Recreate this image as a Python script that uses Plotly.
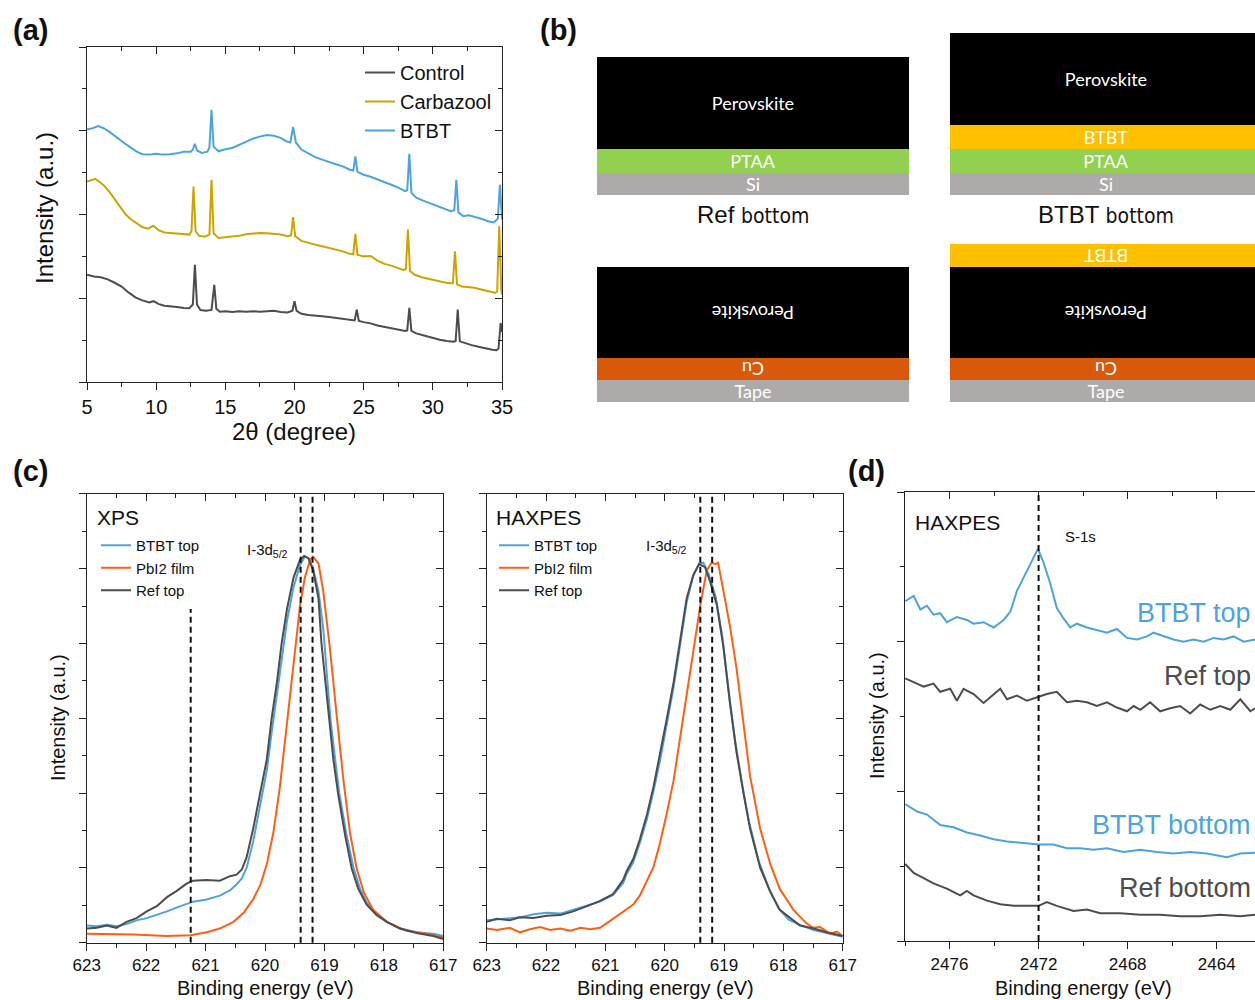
import plotly.graph_objects as go

W, H = 1255, 1000
ARIAL = "Liberation Sans, Arial, sans-serif"
GRAY = "#4d4d4d"
GOLD = "#cda400"
BLUE = "#4da3e0"
ORANGE = "#ff5f15"
AX = "#222222"

# ---------------- (a) XRD data ----------------
xrd_control_x = [5.0, 5.5, 6.0, 6.5, 7.0, 7.5, 8.0, 8.5, 9.0, 9.5, 9.8, 10.2, 10.6, 11.0, 11.5, 12.0, 12.4, 12.65, 12.8, 12.95,
                 13.2, 13.6, 14.0, 14.2, 14.35, 14.6, 15.0, 15.5, 16.0, 16.5, 17.0, 17.5, 18.0, 18.5, 19.0, 19.5, 19.85, 20.0,
                 20.15, 20.5, 21.0, 21.5, 22.0, 22.5, 23.0, 23.5, 24.0, 24.35, 24.5, 24.65, 25.0, 25.5, 26.0, 26.5, 27.0, 27.5,
                 28.0, 28.15, 28.3, 28.45, 28.8, 29.5, 30.0, 30.5, 31.0, 31.5, 31.65, 31.8, 31.95, 32.3, 32.8, 33.3, 33.8,
                 34.3, 34.6, 34.75, 34.9, 35.0]
xrd_control_y = [2.56, 2.52, 2.50, 2.45, 2.37, 2.28, 2.14, 2.02, 1.95, 1.90, 1.93, 1.86, 1.82, 1.80, 1.79, 1.77, 1.76, 1.85, 2.80, 1.85,
                 1.72, 1.70, 1.72, 2.32, 1.75, 1.68, 1.69, 1.67, 1.69, 1.68, 1.69, 1.68, 1.69, 1.70, 1.67, 1.66, 1.70, 1.93,
                 1.70, 1.63, 1.60, 1.59, 1.57, 1.55, 1.53, 1.51, 1.48, 1.47, 1.73, 1.46, 1.43, 1.40, 1.35, 1.32, 1.29, 1.26,
                 1.22, 1.23, 1.77, 1.22, 1.16, 1.10, 1.05, 1.01, 0.98, 0.96, 0.98, 1.73, 0.97, 0.93, 0.88, 0.84, 0.80,
                 0.77, 0.76, 0.80, 1.41, 1.20]
xrd_carb_x = [5.0, 5.3, 5.6, 5.9, 6.2, 6.6, 7.0, 7.4, 7.8, 8.2, 8.6, 9.0, 9.4, 9.8, 10.2, 10.6, 11.0, 11.5, 12.0, 12.4, 12.55,
              12.7, 12.85, 13.1, 13.5, 13.85, 14.0, 14.15, 14.5, 15.0, 15.5, 16.0, 16.5, 17.0, 17.5, 18.0, 18.5, 19.0, 19.5,
              19.75, 19.9, 20.05, 20.5, 21.0, 21.5, 22.0, 22.5, 23.0, 23.5, 24.0, 24.25, 24.4, 24.55, 25.0, 25.5, 26.0, 26.5,
              27.0, 27.5, 27.9, 28.05, 28.2, 28.35, 28.7, 29.2, 29.7, 30.2, 30.7, 31.2, 31.45, 31.6, 31.75, 32.1, 32.6, 33.0,
              33.5, 34.0, 34.5, 34.65, 34.8, 34.95, 35.0]
xrd_carb_y = [4.79, 4.82, 4.85, 4.78, 4.70, 4.55, 4.36, 4.17, 4.00, 3.88, 3.78, 3.70, 3.66, 3.73, 3.62, 3.57, 3.56, 3.55, 3.53, 3.52, 3.60,
              4.67, 3.60, 3.49, 3.47, 3.52, 4.83, 3.55, 3.44, 3.46, 3.48, 3.49, 3.53, 3.54, 3.56, 3.55, 3.54, 3.52, 3.48,
              3.50, 3.94, 3.48, 3.37, 3.32, 3.28, 3.24, 3.20, 3.16, 3.12, 3.06, 3.05, 3.54, 3.04, 3.00, 3.01, 2.90, 2.82,
              2.78, 2.72, 2.67, 2.70, 3.64, 2.65, 2.56, 2.50, 2.46, 2.42, 2.39, 2.36, 2.36, 3.12, 2.33, 2.28, 2.27, 2.25,
              2.21, 2.17, 2.13, 2.16, 3.72, 2.20, 2.09]
xrd_btbt_x = [5.0, 5.4, 5.8, 6.2, 6.6, 7.0, 7.4, 7.8, 8.2, 8.6, 9.0, 9.5, 10.0, 10.5, 11.0, 11.5, 12.0, 12.5, 12.65, 12.8, 12.95,
              13.3, 13.7, 13.85, 14.0, 14.15, 14.5, 15.0, 15.5, 16.0, 16.5, 17.0, 17.5, 18.0, 18.5, 19.0, 19.4, 19.7, 19.9,
              20.1, 20.5, 21.0, 21.5, 22.0, 22.5, 23.0, 23.5, 24.0, 24.25, 24.4, 24.55, 25.0, 25.5, 26.0, 26.5, 27.0, 27.5,
              28.0, 28.15, 28.3, 28.45, 28.8, 29.3, 29.8, 30.3, 30.8, 31.3, 31.55, 31.7, 31.85, 32.2, 32.6, 33.0, 33.5, 34.0,
              34.4, 34.7, 34.85, 35.0]
xrd_btbt_y = [6.03, 6.06, 6.11, 6.06, 5.98, 5.87, 5.78, 5.68, 5.58, 5.50, 5.44, 5.43, 5.45, 5.43, 5.44, 5.46, 5.50, 5.50, 5.55, 5.69, 5.53,
              5.47, 5.50, 5.60, 6.50, 5.62, 5.51, 5.56, 5.59, 5.66, 5.74, 5.81, 5.86, 5.90, 5.88, 5.83, 5.75, 5.72, 6.09,
              5.72, 5.55, 5.45, 5.37, 5.31, 5.25, 5.20, 5.15, 5.07, 5.05, 5.39, 5.02, 4.95, 4.90, 4.84, 4.77, 4.71, 4.64,
              4.56, 4.58, 5.45, 4.52, 4.40, 4.33, 4.27, 4.21, 4.14, 4.08, 4.10, 4.83, 4.05, 3.96, 3.98, 3.95, 3.90, 3.84,
              3.81, 3.90, 4.71, 3.88]
xrd_names = ["Control", "Carbazool", "BTBT"]
xrd_ticks = [5, 10, 15, 20, 25, 30, 35]

# ---------------- (b) layer stacks ----------------
stack_names = ["Ref", "BTBT", "Ref", "BTBT"]
stack_kind = ["bottom", "bottom", "top", "top"]
stack_col = [0, 1, 0, 1]
stack_base = [207, 207, 0, 0]
stack_layers = [["Si", "PTAA", "Perovskite"],
                ["Si", "PTAA", "BTBT", "Perovskite"],
                ["Tape", "Cu", "Perovskite"],
                ["Tape", "Cu", "Perovskite", "BTBT"]]
stack_thick = [[22, 24, 92], [22, 24, 24, 92], [22, 22, 91], [22, 22, 91, 23]]
stack_flip = [[0, 0, 0], [0, 0, 0, 0], [0, 1, 1], [0, 1, 1, 1]]
layer_colors = {"Si": "#aeaaaa", "Tape": "#aeaaaa", "PTAA": "#92d050", "Perovskite": "#000000",
                "BTBT": "#ffc000", "Cu": "#d9590a"}

# ---------------- (c) XPS I-3d5/2 ----------------
xps_btbt_E = [623.00, 622.83, 622.66, 622.50, 622.33, 622.16, 621.99, 621.82, 621.65, 621.49, 621.32, 621.21, 620.98, 620.76,
              620.59, 620.48, 620.39, 620.31, 620.20, 620.08, 619.97, 619.89, 619.80, 619.72, 619.63, 619.52, 619.41, 619.33,
              619.27, 619.19, 619.10, 619.02, 618.96, 618.90, 618.82, 618.75, 618.63, 618.51, 618.40, 618.29, 618.12, 617.95,
              617.73, 617.45, 617.17, 617.00]
xps_btbt_I = [0.23, 0.22, 0.24, 0.22, 0.25, 0.30, 0.33, 0.37, 0.42, 0.47, 0.52, 0.55, 0.58, 0.63,
              0.70, 0.78, 0.86, 1.00, 1.35, 1.85, 2.30, 2.80, 3.30, 3.80, 4.30, 4.75, 5.05, 5.16,
              5.14, 5.00, 4.70, 4.20, 3.60, 3.00, 2.45, 2.00, 1.45, 1.00, 0.72, 0.54, 0.38, 0.28,
              0.19, 0.14, 0.12, 0.09]
xps_pbi2_E = [623.00, 622.21, 621.65, 621.25, 620.98, 620.76, 620.53, 620.36, 620.20, 620.08, 619.97, 619.86, 619.75, 619.63,
              619.52, 619.41, 619.33, 619.24, 619.19, 619.10, 619.02, 618.91, 618.79, 618.68, 618.57, 618.46, 618.34, 618.18,
              617.95, 617.62, 617.28, 617.00]
xps_pbi2_I = [0.12, 0.11, 0.09, 0.10, 0.14, 0.19, 0.28, 0.40, 0.58, 0.77, 1.05, 1.47, 2.08, 2.92,
              3.76, 4.51, 4.88, 5.12, 5.16, 5.07, 4.70, 3.95, 3.01, 2.17, 1.47, 1.00, 0.68, 0.44,
              0.28, 0.16, 0.12, 0.07]
xps_ref_E = [623.00, 622.83, 622.66, 622.50, 622.33, 622.16, 621.99, 621.82, 621.65, 621.49, 621.32, 621.21, 620.98, 620.76,
             620.59, 620.48, 620.39, 620.31, 620.20, 620.08, 619.97, 619.89, 619.80, 619.72, 619.63, 619.52, 619.41, 619.34,
             619.27, 619.19, 619.10, 619.05, 618.99, 618.93, 618.85, 618.77, 618.65, 618.54, 618.43, 618.29, 618.12, 617.95,
             617.73, 617.45, 617.17, 617.00]
xps_ref_I = [0.19, 0.20, 0.23, 0.20, 0.28, 0.33, 0.42, 0.49, 0.61, 0.69, 0.79, 0.83, 0.84, 0.83,
             0.89, 0.91, 0.98, 1.14, 1.52, 1.99, 2.45, 2.99, 3.48, 4.00, 4.46, 4.88, 5.12, 5.17,
             5.14, 4.98, 4.60, 4.00, 3.53, 2.99, 2.45, 1.99, 1.43, 0.99, 0.72, 0.51, 0.37, 0.28,
             0.19, 0.13, 0.09, 0.05]
xps_peak_lines = [619.4, 619.2]
xps_shoulder_line = 621.25
xps_shoulder_top = 4.46

# ---------------- (c) HAXPES I-3d5/2 ----------------
hax_btbt_E = [623.00, 622.83, 622.61, 622.44, 622.21, 621.99, 621.76, 621.54, 621.31, 621.09, 620.87, 620.70, 620.64, 620.53,
              620.42, 620.30, 620.19, 620.08, 619.97, 619.85, 619.74, 619.63, 619.52, 619.42, 619.35, 619.26, 619.14, 619.03,
              618.92, 618.81, 618.69, 618.58, 618.41, 618.24, 618.08, 617.91, 617.72, 617.49, 617.27, 617.00]
hax_btbt_I = [0.30, 0.31, 0.33, 0.34, 0.38, 0.40, 0.39, 0.44, 0.50, 0.55, 0.64, 0.80, 0.92, 1.08,
              1.33, 1.65, 2.02, 2.43, 2.90, 3.42, 3.98, 4.55, 4.90, 5.07, 5.08, 4.93, 4.62, 4.10,
              3.35, 2.68, 2.10, 1.62, 1.08, 0.72, 0.46, 0.31, 0.24, 0.17, 0.13, 0.08]
hax_pbi2_E = [623.00, 622.83, 622.61, 622.44, 622.27, 622.10, 621.93, 621.76, 621.59, 621.42, 621.25, 621.09, 620.98, 620.81,
              620.64, 620.53, 620.42, 620.30, 620.19, 620.08, 619.97, 619.85, 619.74, 619.63, 619.52, 619.40, 619.29, 619.21,
              619.15, 619.10, 619.01, 618.90, 618.79, 618.67, 618.56, 618.39, 618.22, 618.06, 617.83, 617.61, 617.50, 617.38,
              617.21, 617.10, 617.00]
hax_pbi2_I = [0.19, 0.17, 0.20, 0.14, 0.18, 0.21, 0.17, 0.19, 0.16, 0.20, 0.18, 0.20, 0.26, 0.35,
              0.44, 0.51, 0.63, 0.82, 1.01, 1.33, 1.71, 2.17, 2.73, 3.29, 3.90, 4.51, 4.98, 5.08,
              5.06, 5.08, 4.70, 4.23, 3.67, 2.92, 2.22, 1.52, 1.05, 0.72, 0.44, 0.26, 0.20, 0.21,
              0.12, 0.15, 0.09]
hax_ref_E = [623.00, 622.83, 622.61, 622.44, 622.21, 621.99, 621.76, 621.54, 621.31, 621.09, 620.87, 620.70, 620.64, 620.53,
             620.42, 620.30, 620.19, 620.08, 619.97, 619.85, 619.74, 619.63, 619.52, 619.42, 619.32, 619.24, 619.12, 619.01,
             618.90, 618.79, 618.67, 618.56, 618.39, 618.22, 618.06, 617.89, 617.72, 617.49, 617.27, 617.00]
hax_ref_I = [0.28, 0.32, 0.30, 0.34, 0.33, 0.36, 0.37, 0.42, 0.49, 0.56, 0.65, 0.84, 0.96, 1.12,
             1.38, 1.71, 2.08, 2.50, 2.97, 3.48, 4.04, 4.60, 4.91, 5.06, 5.02, 4.84, 4.51, 3.95,
             3.20, 2.55, 1.99, 1.52, 1.00, 0.68, 0.44, 0.33, 0.23, 0.19, 0.14, 0.09]
hax_peak_lines = [619.4, 619.2]
c_names = ["BTBT top", "PbI2 film", "Ref top"]
c_ticks = [623, 622, 621, 620, 619, 618, 617]

# ---------------- (d) HAXPES S-1s ----------------
s_btbt_top_E = [2477.99, 2477.61, 2477.31, 2477.01, 2476.72, 2476.42, 2476.12, 2475.67, 2475.22, 2474.92, 2474.47, 2474.02,
                2473.57, 2473.27, 2472.97, 2472.52, 2472.22, 2472.03, 2471.78, 2471.48, 2471.18, 2470.88, 2470.58, 2470.28,
                2469.83, 2469.38, 2468.93, 2468.48, 2468.03, 2467.58, 2467.13, 2466.84, 2466.39, 2465.94, 2465.49, 2465.04,
                2464.59, 2464.14, 2463.69, 2463.24, 2462.79, 2462.27]
s_btbt_top_I = [4.54, 4.61, 4.43, 4.48, 4.36, 4.38, 4.26, 4.33, 4.29, 4.24, 4.26, 4.19,
                4.29, 4.40, 4.68, 4.94, 5.11, 5.24, 5.06, 4.78, 4.45, 4.31, 4.19, 4.24,
                4.19, 4.15, 4.12, 4.17, 4.05, 4.03, 4.07, 4.12, 4.07, 4.03, 4.00, 4.03,
                4.00, 4.05, 4.03, 4.07, 4.00, 4.03]
s_ref_top_E = [2477.99, 2477.61, 2477.16, 2476.72, 2476.42, 2475.97, 2475.67, 2475.37, 2474.92, 2474.47, 2474.02, 2473.72,
               2473.42, 2472.97, 2472.52, 2472.00, 2471.63, 2471.18, 2470.73, 2470.28, 2469.83, 2469.38, 2468.93, 2468.48,
               2468.03, 2467.73, 2467.43, 2466.99, 2466.54, 2466.09, 2465.64, 2465.19, 2464.74, 2464.29, 2463.84, 2463.39,
               2462.94, 2462.49, 2462.27]
s_ref_top_I = [3.51, 3.46, 3.40, 3.44, 3.33, 3.37, 3.21, 3.37, 3.30, 3.18, 3.30, 3.37,
               3.23, 3.28, 3.21, 3.26, 3.30, 3.33, 3.19, 3.21, 3.19, 3.14, 3.19, 3.12,
               3.07, 3.14, 3.09, 3.19, 3.07, 3.11, 3.14, 3.04, 3.16, 3.09, 3.14, 3.09,
               3.23, 3.07, 3.11]
s_btbt_bot_E = [2477.99, 2477.46, 2477.01, 2476.42, 2475.82, 2475.22, 2474.62, 2474.02, 2473.42, 2472.67, 2472.00, 2471.33,
                2470.73, 2470.13, 2469.53, 2468.93, 2468.18, 2467.43, 2466.69, 2465.94, 2465.19, 2464.44, 2463.54, 2462.94,
                2462.27]
s_btbt_bot_I = [1.83, 1.73, 1.69, 1.55, 1.52, 1.45, 1.41, 1.36, 1.33, 1.31, 1.29, 1.29,
                1.24, 1.24, 1.22, 1.24, 1.19, 1.22, 1.19, 1.17, 1.19, 1.17, 1.12, 1.17,
                1.18]
s_ref_bot_E = [2477.99, 2477.61, 2477.16, 2476.72, 2476.12, 2475.52, 2475.22, 2474.92, 2474.32, 2473.72, 2473.12, 2472.52,
               2472.00, 2471.63, 2471.18, 2470.43, 2469.83, 2469.23, 2468.33, 2467.43, 2466.54, 2465.64, 2464.74, 2463.84,
               2462.94, 2462.27]
s_ref_bot_I = [1.03, 0.91, 0.84, 0.77, 0.70, 0.61, 0.67, 0.61, 0.54, 0.49, 0.47, 0.47,
               0.47, 0.52, 0.47, 0.40, 0.42, 0.37, 0.37, 0.35, 0.35, 0.33, 0.33, 0.35,
               0.33, 0.35]
s_line = 2472
d_names = ["BTBT top", "Ref top", "BTBT bottom", "Ref bottom"]
d_ticks = [2476, 2472, 2468, 2464]


def px(xp):
    return xp / W


def py(yp):
    return 1 - yp / H


fig = go.Figure()

# (a)
for nm, xs, ys, col in zip(xrd_names, [xrd_control_x, xrd_carb_x, xrd_btbt_x],
                           [xrd_control_y, xrd_carb_y, xrd_btbt_y], [GRAY, GOLD, BLUE]):
    fig.add_trace(go.Scatter(x=xs, y=ys, mode="lines", name=nm, line=dict(color=col, width=2),
                             xaxis="x", yaxis="y", legend="legend"))

# (c) XPS
for nm, xs, ys, col in zip(c_names, [xps_btbt_E, xps_pbi2_E, xps_ref_E], [xps_btbt_I, xps_pbi2_I, xps_ref_I],
                           [BLUE, ORANGE, GRAY]):
    fig.add_trace(go.Scatter(x=xs, y=ys, mode="lines", name=nm, line=dict(color=col, width=2),
                             xaxis="x2", yaxis="y2", legend="legend2"))
# (c) HAXPES
for nm, xs, ys, col in zip(c_names, [hax_btbt_E, hax_pbi2_E, hax_ref_E], [hax_btbt_I, hax_pbi2_I, hax_ref_I],
                           [BLUE, ORANGE, GRAY]):
    fig.add_trace(go.Scatter(x=xs, y=ys, mode="lines", name=nm, line=dict(color=col, width=2),
                             xaxis="x3", yaxis="y3", legend="legend3"))
# (d)
for nm, xs, ys, col in zip(d_names, [s_btbt_top_E, s_ref_top_E, s_btbt_bot_E, s_ref_bot_E],
                           [s_btbt_top_I, s_ref_top_I, s_btbt_bot_I, s_ref_bot_I], [BLUE, GRAY, BLUE, GRAY]):
    fig.add_trace(go.Scatter(x=xs, y=ys, mode="lines", name=nm, line=dict(color=col, width=2),
                             xaxis="x4", yaxis="y4", showlegend=False))

# empty traces so the mirrored (top / right) frame axes get drawn
for xa, ya in [("x5", "y5"), ("x6", "y6"), ("x7", "y7"), ("x8", "y4")]:
    fig.add_trace(go.Scatter(x=[None], y=[None], mode="lines", xaxis=xa, yaxis=ya, showlegend=False,
                             hoverinfo="skip"))

# (b) stacks as bars
for name, kind, col, base0, layers, thick, flips in zip(stack_names, stack_kind, stack_col, stack_base,
                                                        stack_layers, stack_thick, stack_flip):
    b = base0
    for lay, t, fl in zip(layers, thick, flips):
        fig.add_trace(go.Bar(x=[col], y=[t], base=[b], width=0.884, marker=dict(color=layer_colors[lay], line=dict(width=0)),
                             text=[lay], textposition="inside", insidetextanchor="middle",
                             textangle=180 if fl else 0, constraintext="none",
                             textfont=dict(family="Lato, Open Sans, sans-serif", size=18, color="white"),
                             xaxis="x9", yaxis="y9", showlegend=False, hoverinfo="skip"))
        b += t


def main_axes(dom, rng, mdtick, labels, tickvals=None, dtick=None, anchor=None, size=17):
    d = dict(domain=dom, range=rng, showgrid=False, zeroline=False, showline=True, linecolor=AX, linewidth=1.4,
             ticks="outside", ticklen=7, tickwidth=1.4, tickcolor=AX, anchor=anchor,
             showticklabels=labels, tickfont=dict(family=ARIAL, size=size, color="#111"),
             minor=dict(dtick=mdtick, tick0=0, ticks="outside", ticklen=4, tickwidth=1.4, tickcolor=AX, showgrid=False))
    if tickvals is not None:
        d.update(tickmode="array", tickvals=tickvals, ticktext=[str(t) for t in tickvals])
    else:
        d.update(dtick=dtick, tick0=0)
    return d


def over_axes(over, anchor, side, rng, dtick, mdtick):
    return dict(overlaying=over, anchor=anchor, side=side, range=rng, showgrid=False, zeroline=False,
                showline=True, linecolor=AX, linewidth=1.4, ticks="inside", ticklen=7, tickwidth=1.4, tickcolor=AX,
                showticklabels=False, dtick=dtick, tick0=0,
                minor=dict(dtick=mdtick, tick0=0, ticks="inside", ticklen=4, tickwidth=1.4, tickcolor=AX, showgrid=False))


dom_a_x = [px(87), px(502)]
dom_a_y = [py(382), py(47)]
dom_c1_x = [px(86.7), px(443.3)]
dom_c2_x = [px(486.7), px(842.7)]
dom_c_y = [py(942.8), py(493.8)]
dom_d_x = [px(905), 1.0]
dom_d_y = [py(941), py(492)]
rng_d = [2478, 2462.28]

lay = dict(
    width=W, height=H, margin=dict(l=0, r=0, t=0, b=0, autoexpand=False), paper_bgcolor="white",
    plot_bgcolor="rgba(0,0,0,0)", barmode="overlay", font=dict(family=ARIAL, color="#111"),
    xaxis=main_axes(dom_a_x, [5, 35], 2.5, True, tickvals=xrd_ticks, anchor="y", size=20),
    yaxis=main_axes(dom_a_y, [0, 8], 1, False, dtick=2, anchor="x"),
    xaxis5=over_axes("x", "y5", "top", [5, 35], 5, 2.5),
    yaxis5=over_axes("y", "x5", "right", [0, 8], 2, 1),
    xaxis2=main_axes(dom_c1_x, [623, 617], 0.5, True, tickvals=c_ticks, anchor="y2"),
    yaxis2=main_axes(dom_c_y, [0, 6], 0.5, False, dtick=1, anchor="x2"),
    xaxis6=over_axes("x2", "y6", "top", [623, 617], 1, 0.5),
    yaxis6=over_axes("y2", "x6", "right", [0, 6], 1, 0.5),
    xaxis3=main_axes(dom_c2_x, [623, 617], 0.5, True, tickvals=c_ticks, anchor="y3"),
    yaxis3=main_axes(dom_c_y, [0, 6], 0.5, False, dtick=1, anchor="x3"),
    xaxis7=over_axes("x3", "y7", "top", [623, 617], 1, 0.5),
    yaxis7=over_axes("y3", "x7", "right", [0, 6], 1, 0.5),
    xaxis4=main_axes(dom_d_x, rng_d, 2, True, tickvals=d_ticks, anchor="y4"),
    yaxis4=main_axes(dom_d_y, [0, 6], 1, False, dtick=2, anchor="x4"),
    xaxis8=over_axes("x4", "y4", "top", rng_d, 4, 2),
    xaxis9=dict(domain=[px(597), 1.0], range=[-0.4419, 1.4221], visible=False, anchor="y9"),
    yaxis9=dict(domain=[py(402), py(33)], range=[0, 369], visible=False, anchor="x9"),
    legend=dict(x=px(360), y=py(53), xanchor="left", yanchor="top", bgcolor="rgba(0,0,0,0)",
                font=dict(family=ARIAL, size=20, color="#111"), tracegroupgap=0, itemwidth=30),
    legend2=dict(x=px(96), y=py(529), xanchor="left", yanchor="top", bgcolor="rgba(0,0,0,0)",
                 font=dict(family=ARIAL, size=15, color="#111"), tracegroupgap=0, itemwidth=30),
    legend3=dict(x=px(494), y=py(529), xanchor="left", yanchor="top", bgcolor="rgba(0,0,0,0)",
                 font=dict(family=ARIAL, size=15, color="#111"), tracegroupgap=0, itemwidth=30),
)
fig.update_layout(**lay)

# dashed reference lines
dash = dict(color="#111", width=2, dash="6px,4px")
shapes = []
for e in xps_peak_lines:
    shapes.append(dict(type="line", xref="x2", yref="y2 domain", x0=e, x1=e, y0=0, y1=1, line=dash))
shapes.append(dict(type="line", xref="x2", yref="y2", x0=xps_shoulder_line, x1=xps_shoulder_line, y0=0,
                   y1=xps_shoulder_top, line=dash))
for e in hax_peak_lines:
    shapes.append(dict(type="line", xref="x3", yref="y3 domain", x0=e, x1=e, y0=0, y1=1, line=dash))
shapes.append(dict(type="line", xref="x4", yref="y4 domain", x0=s_line, x1=s_line, y0=0, y1=1, line=dash))
fig.update_layout(shapes=shapes)

ann = []


def add_text(x, y, text, size, color="#111", xanchor="center", yanchor="middle", angle=0, bold=False, xref="paper",
             yref="paper", family=ARIAL):
    ann.append(dict(x=x, y=y, xref=xref, yref=yref, text=f"<b>{text}</b>" if bold else text, showarrow=False,
                    xanchor=xanchor, yanchor=yanchor, textangle=angle,
                    font=dict(family=family, size=size, color=color)))


# panel labels
add_text(px(30), py(30), "(a)", 29, bold=True)
add_text(px(558), py(30), "(b)", 29, bold=True)
add_text(px(30), py(471), "(c)", 29, bold=True)
add_text(px(866), py(471), "(d)", 29, bold=True)

# (a) titles
add_text(px(294), py(432), "2θ (degree)", 24)
add_text(px(45), py(208), "Intensity (a.u.)", 24, angle=-90)

# (b) stack labels
for name, kind, col, base0 in zip(stack_names, stack_kind, stack_col, stack_base):
    add_text(col, base0 - 19,
             f"{name} <span style=\"font-family:'Liberation Sans Narrow', 'DejaVu Sans Condensed'; font-size:21px\">{kind}</span>",
             24, xref="x9", yref="y9")

# (c) texts
add_text(px(95), py(517), "XPS", 21, xanchor="left")
add_text(px(494), py(517), "HAXPES", 21, xanchor="left")
add_text(px(245), py(550), "I-3d<sub>5/2</sub>", 15, xanchor="left")
add_text(px(644), py(546), "I-3d<sub>5/2</sub>", 15, xanchor="left")
add_text(px(58), py(718), "Intensity (a.u.)", 20, angle=-90)
add_text(px(265), py(988), "Binding energy (eV)", 20)
add_text(px(665), py(988), "Binding energy (eV)", 20)

# (d) texts
add_text(px(913), py(522), "HAXPES", 21, xanchor="left")
add_text(px(1080), py(536), "S-1s", 15)
add_text(px(877), py(716), "Intensity (a.u.)", 20, angle=-90)
add_text(px(1083), py(988), "Binding energy (eV)", 20)
d_label_y = [613, 676, 825, 888]
for nm, yy, col in zip(d_names, d_label_y, [BLUE, GRAY, BLUE, GRAY]):
    add_text(px(1253), py(yy), nm, 27, color=col, xanchor="right")

fig.update_layout(annotations=ann)
fig.write_html("out.html", config={"displayModeBar": False},
               post_script="document.body.style.margin='0';document.body.style.overflow='hidden';")
